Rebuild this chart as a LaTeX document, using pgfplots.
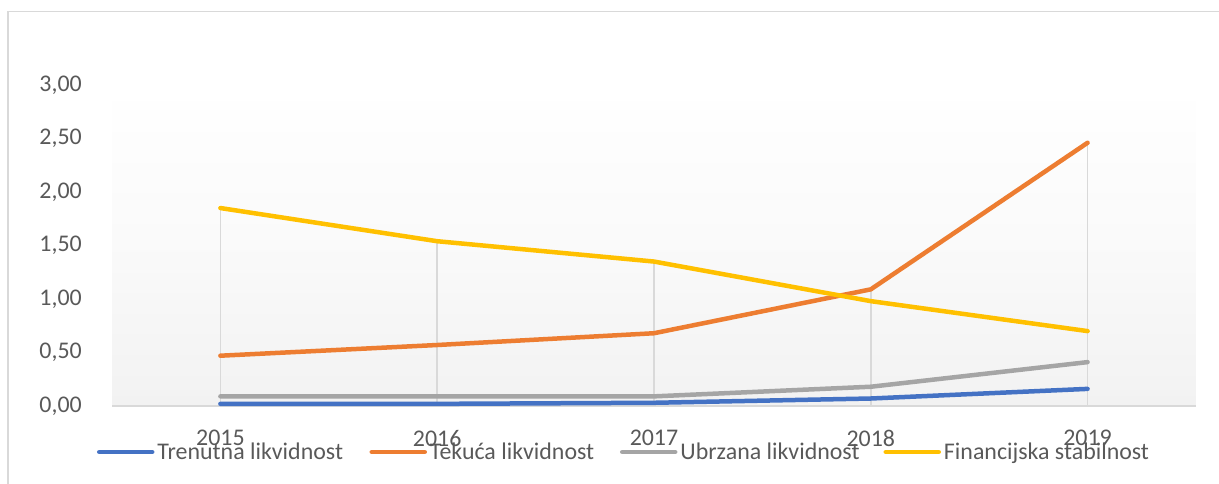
\documentclass[border=0pt]{standalone}
\usepackage{fontspec}
\setmainfont{Carlito}
\usepackage{pgfplots}
\pgfplotsset{compat=1.18}
\definecolor{sblue}{HTML}{4472C4}
\definecolor{sorange}{HTML}{ED7D31}
\definecolor{sgray}{HTML}{A5A5A5}
\definecolor{syellow}{HTML}{FFC000}
\definecolor{gridgray}{HTML}{D9D9D9}
\definecolor{ticktext}{HTML}{595959}
\definecolor{bgbottom}{HTML}{F2F2F2}
\begin{document}
\begin{tikzpicture}
\useasboundingbox (0,0) rectangle (1219bp,484bp);
\draw[line width=1.3bp, color=gridgray] (8bp,472.5bp) -- (1219bp,472.5bp);
\draw[line width=1.3bp, color=gridgray] (8bp,472.5bp) -- (8bp,0bp);
\begin{axis}[
  at={(112bp,78bp)}, anchor=south west,
  scale only axis, width=1084bp, height=321bp,
  xmin=-0.5, xmax=4.5, ymin=0, ymax=3,
  axis background/.style={shade, top color=white, bottom color=bgbottom, middle color=white!60!bgbottom},
  axis x line*=bottom, axis y line*=left,
  y axis line style={draw=none},
  x axis line style={draw=gridgray, line width=1.3bp, -},
  major tick length=0pt,
  xtick={0,1,2,3,4},
  xticklabels={2015,2016,2017,2018,2019},
  ytick={0,0.5,1,1.5,2,2.5,3},
  yticklabel={\pgfmathprintnumber[fixed,fixed zerofill,precision=2,use comma,assume math mode=true]{\tick}},
  every tick label/.append style={font=\fontsize{24}{28}\selectfont, text=ticktext},
  xticklabel style={anchor=north, inner sep=0pt, yshift=-24bp},
  yticklabel style={anchor=east, inner sep=0pt, xshift=-30bp},
  legend columns=4,
  legend cell align=left,
  legend image code/.code={\draw[#1, line cap=round] (0bp,0bp) -- (53bp,0bp);},
  legend style={at={(axis description cs:-0.01384,-0.1433)}, anchor=west,
    draw=none, fill=none, inner sep=0pt, outer sep=0pt,
    font=\fontsize{24}{28}\selectfont, text=ticktext,
    column sep=0pt, /tikz/every odd column/.append style={column sep=3bp},
    nodes={inner sep=0pt}},
  clip=false,
]
\addplot[ycomb, color=gridgray, line width=1.5bp, no marks, forget plot] coordinates {(0,1.85) (1,1.54) (2,1.35) (3,1.09) (4,2.46)};
\addplot[color=sblue, line width=4.5bp, line cap=round, line join=round, no marks] coordinates {(0,0.02) (1,0.02) (2,0.03) (3,0.07) (4,0.16)};
\addlegendentry{\makebox[212bp][l]{Trenutna likvidnost}}
\addplot[color=sorange, line width=4.5bp, line cap=round, line join=round, no marks] coordinates {(0,0.47) (1,0.57) (2,0.68) (3,1.09) (4,2.46)};
\addlegendentry{\makebox[190bp][l]{Tekuća likvidnost}}
\addplot[color=sgray, line width=4.5bp, line cap=round, line join=round, no marks] coordinates {(0,0.09) (1,0.09) (2,0.09) (3,0.18) (4,0.41)};
\addlegendentry{\makebox[203bp][l]{Ubrzana likvidnost}}
\addplot[color=syellow, line width=4.5bp, line cap=round, line join=round, no marks] coordinates {(0,1.85) (1,1.54) (2,1.35) (3,0.98) (4,0.70)};
\addlegendentry{Financijska stabilnost}
\end{axis}
\end{tikzpicture}
\end{document}
